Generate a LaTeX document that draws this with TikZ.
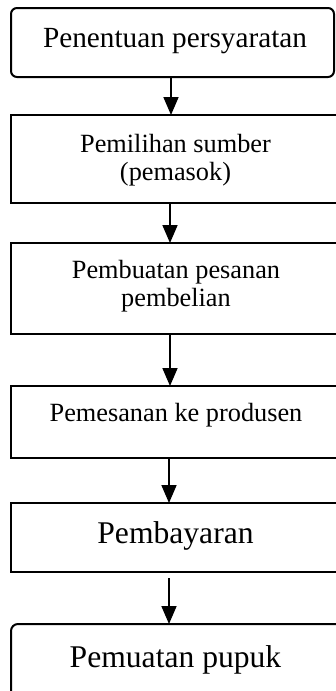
\documentclass[tikz,border=0pt]{standalone}
\usepackage{fontspec}
\setmainfont{Liberation Serif}
\usetikzlibrary{arrows.meta}
\tikzset{
  box/.style={draw, line width=2pt, rectangle, anchor=north west, inner sep=0pt, outer sep=0pt},
  rbox/.style={box, rounded corners=6pt},
  arr/.style={line width=1.8pt, -{Triangle[length=18pt,width=15pt]}},
  txtA/.style={font=\fontsize{29.25}{34}\selectfont, anchor=base, inner sep=0pt},
  txtB/.style={font=\fontsize{26.3}{28.5}\selectfont, anchor=base, inner sep=0pt, align=center},
  txtC/.style={font=\fontsize{31.6}{36}\selectfont, anchor=base, inner sep=0pt},
}
\begin{document}
\begin{tikzpicture}[x=1pt,y=-1pt]
\useasboundingbox (0,0) rectangle (336,691);
\clip (0,0) rectangle (336,691);
\node[rbox, minimum width=323pt, minimum height=69pt] (b1) at (11,8) {};
\node[box, minimum width=334pt, minimum height=88pt] (b2) at (11,115) {};
\node[box, minimum width=334pt, minimum height=91pt] (b3) at (11,243) {};
\node[box, minimum width=334pt, minimum height=72pt] (b4) at (11,386) {};
\node[box, minimum width=334pt, minimum height=69pt] (b5) at (11,503) {};
\node[rbox, minimum width=334pt, minimum height=80pt, rounded corners=7pt] (b6) at (11,624) {};

\node[txtA] (t1) at (175,47) {Penentuan persyaratan};
\node[txtB] (t2) at (175.5,180.5) {Pemilihan sumber\\(pemasok)};
\node[txtB] (t3) at (176,306.5) {Pembuatan pesanan\\pembelian};
\node[txtB] (t4) at (176,421) {Pemesanan ke produsen};
\node[txtC] (t5) at (175.5,543) {Pembayaran};
\node[txtC] (t6) at (175.5,667) {Pemuatan pupuk};

\coordinate (xa) at (171,0);
\coordinate (xb) at (170,0);
\coordinate (xc) at (169,0);
\draw[arr] (b1.south -| xa) -- (b2.north -| xa);
\draw[arr] (b2.south -| xb) -- (b3.north -| xb);
\draw[arr] (b3.south -| xb) -- (b4.north -| xb);
\draw[arr] (b4.south -| xc) -- (b5.north -| xc);
\draw[arr, shorten <=6pt] (b5.south -| xc) -- (b6.north -| xc);
\end{tikzpicture}
\end{document}
